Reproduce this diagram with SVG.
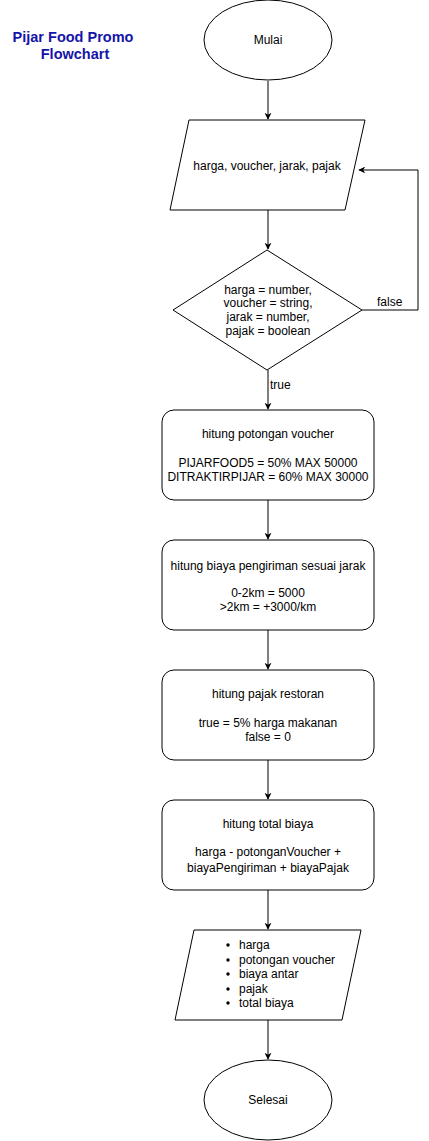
<svg xmlns="http://www.w3.org/2000/svg" width="429" height="1141" viewBox="0 0 429 1141">
<style>
.s{fill:#fff;stroke:#000;stroke-width:1}
.t{font-family:"Liberation Sans",Arial,sans-serif;font-size:12px;fill:#000;text-anchor:middle}
.l{font-family:"Liberation Sans",Arial,sans-serif;font-size:12px;fill:#000}
.c{fill:none;stroke:#000;stroke-width:1}
.title{font-family:"Liberation Sans",Arial,sans-serif;font-size:14.5px;font-weight:bold;fill:#1515a8;text-anchor:middle}
</style>
<defs>
<marker id="a" viewBox="0 0 10 10" refX="9" refY="5" markerWidth="7" markerHeight="7" orient="auto" markerUnits="userSpaceOnUse">
<path d="M0,0 L10,5 L0,10 L3,5 Z" fill="#000"/>
</marker>
</defs>
<rect width="429" height="1141" fill="#fff"/>
<g id="title">
<text class="title" x="73" y="42">Pijar Food Promo</text>
<text class="title" x="75" y="59">Flowchart</text>
</g>
<g id="connectors">
<line class="c" x1="268" y1="81" x2="268" y2="119" marker-end="url(#a)"/>
<line class="c" x1="268" y1="210" x2="268" y2="249" marker-end="url(#a)"/>
<polyline class="c" points="362,310 418,310 418,170 359,170" marker-end="url(#a)"/>
<line class="c" x1="268" y1="370" x2="268" y2="409" marker-end="url(#a)"/>
<line class="c" x1="268" y1="500" x2="268" y2="539" marker-end="url(#a)"/>
<line class="c" x1="268" y1="630" x2="268" y2="669" marker-end="url(#a)"/>
<line class="c" x1="268" y1="760" x2="268" y2="799" marker-end="url(#a)"/>
<line class="c" x1="268" y1="890" x2="268" y2="929" marker-end="url(#a)"/>
<line class="c" x1="268" y1="1020" x2="268" y2="1059" marker-end="url(#a)"/>
<text class="l" x="377" y="306">false</text>
<text class="l" x="270" y="389">true</text>
</g>
<g id="mulai">
<ellipse class="s" cx="268" cy="40" rx="64" ry="40"/>
<text class="t" x="268" y="44">Mulai</text>
</g>
<g id="input">
<polygon class="s" points="189,120 365,120 345,210 170,210"/>
<text class="t" x="267" y="170">harga, voucher, jarak, pajak</text>
</g>
<g id="cek">
<polygon class="s" points="267,250 362,310 267,370 173,310"/>
<text class="t" x="268" y="294">harga = number,</text>
<text class="t" x="268" y="307">voucher = string,</text>
<text class="t" x="268" y="321">jarak = number,</text>
<text class="t" x="268" y="335">pajak = boolean</text>
</g>
<g id="voucher">
<rect class="s" x="162" y="410" width="212" height="90" rx="12" ry="12"/>
<text class="t" x="268" y="438">hitung potongan voucher</text>
<text class="t" x="268" y="467">PIJARFOOD5 = 50% MAX 50000</text>
<text class="t" x="268" y="481">DITRAKTIRPIJAR = 60% MAX 30000</text>
</g>
<g id="pengiriman">
<rect class="s" x="162" y="540" width="212" height="90" rx="12" ry="12"/>
<text class="t" x="268" y="570">hitung biaya pengiriman sesuai jarak</text>
<text class="t" x="268" y="597">0-2km = 5000</text>
<text class="t" x="268" y="611">&gt;2km = +3000/km</text>
</g>
<g id="pajak">
<rect class="s" x="162" y="670" width="212" height="90" rx="12" ry="12"/>
<text class="t" x="268" y="698">hitung pajak restoran</text>
<text class="t" x="268" y="727">true = 5% harga makanan</text>
<text class="t" x="268" y="741">false = 0</text>
</g>
<g id="total">
<rect class="s" x="162" y="800" width="212" height="90" rx="12" ry="12"/>
<text class="t" x="268" y="828">hitung total biaya</text>
<text class="t" x="268" y="856">harga - potonganVoucher +</text>
<text class="t" x="268" y="872">biayaPengiriman + biayaPajak</text>
</g>
<g id="output">
<polygon class="s" points="194,930 361,930 342,1020 175,1020"/>
<g fill="#000">
<circle cx="228" cy="945" r="1.7"/>
<circle cx="228" cy="960" r="1.7"/>
<circle cx="228" cy="974" r="1.7"/>
<circle cx="228" cy="989" r="1.7"/>
<circle cx="228" cy="1003" r="1.7"/>
</g>
<text class="l" x="239" y="949">harga</text>
<text class="l" x="239" y="964">potongan voucher</text>
<text class="l" x="239" y="978">biaya antar</text>
<text class="l" x="239" y="993">pajak</text>
<text class="l" x="239" y="1007">total biaya</text>
</g>
<g id="selesai">
<ellipse class="s" cx="268" cy="1100" rx="64" ry="40"/>
<text class="t" x="268" y="1104">Selesai</text>
</g>
</svg>
